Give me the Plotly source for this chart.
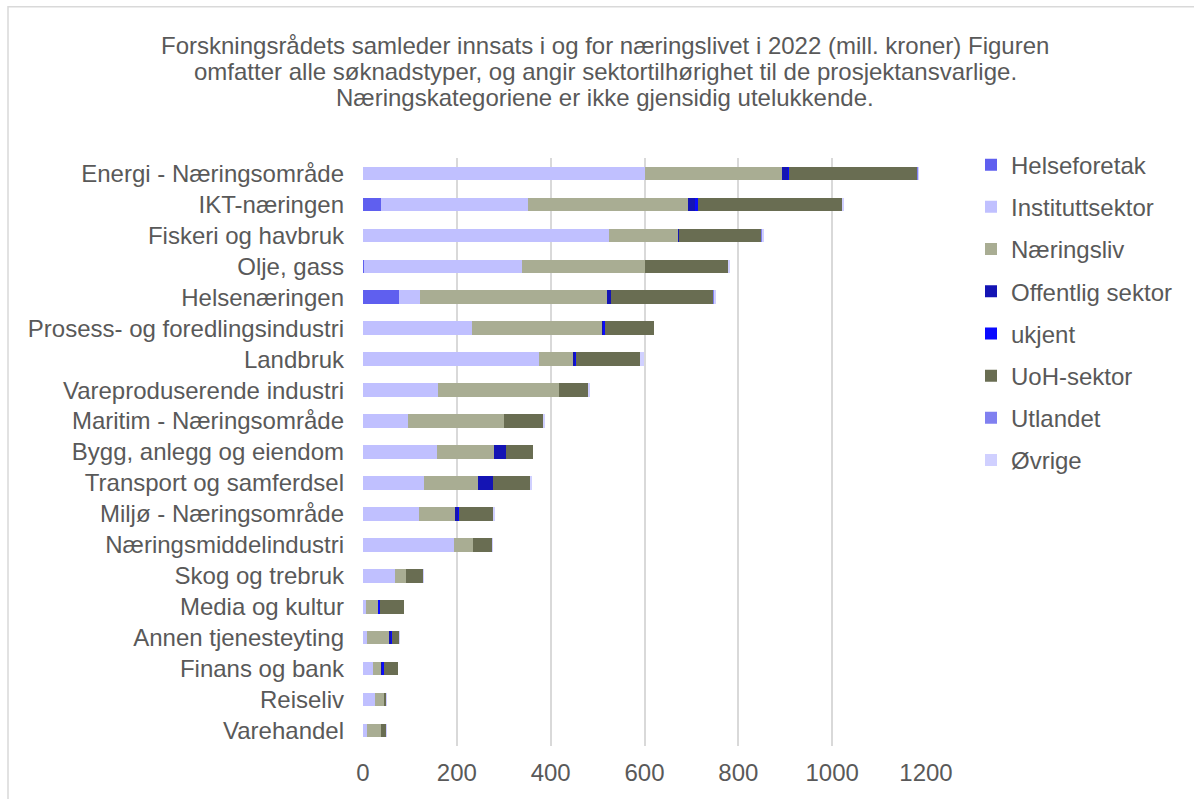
import plotly.graph_objects as go

categories = [
    "Energi - Næringsområde", "IKT-næringen", "Fiskeri og havbruk", "Olje, gass",
    "Helsenæringen", "Prosess- og foredlingsindustri", "Landbruk",
    "Vareproduserende industri", "Maritim - Næringsområde", "Bygg, anlegg og eiendom",
    "Transport og samferdsel", "Miljø - Næringsområde", "Næringsmiddelindustri",
    "Skog og trebruk", "Media og kultur", "Annen tjenesteyting", "Finans og bank",
    "Reiseliv", "Varehandel",
]

helseforetak =     [0, 38, 0, 2, 77, 0, 0, 0, 0, 0, 0, 0, 0, 0, 0, 0, 0, 0, 0]
instituttsektor =  [601, 313, 525, 336, 45, 232, 375, 160, 95, 157, 131, 120, 193, 69, 7, 9, 21, 25, 9]
naeringsliv =      [292, 341, 147, 262, 397, 279, 74, 258, 205, 122, 115, 76, 42, 23, 25, 48, 19, 20, 30]
offentlig_sektor = [14, 16, 2, 0, 9, 1, 3, 0, 0, 25, 32, 8, 0, 0, 1, 3, 2, 0, 0]
ukjent =           [2, 7, 0, 0, 0, 3, 2, 0, 0, 0, 0, 1, 0, 0, 3, 1, 3, 0, 0]
uoh_sektor =       [273, 306, 176, 179, 220, 105, 136, 62, 84, 58, 80, 74, 40, 37, 52, 16, 30, 5, 11]
utlandet =         [1, 1, 1, 0, 1, 0, 0, 1, 1, 0, 0, 0, 0, 0, 0, 0, 0, 0, 0]
ovrige =           [1, 2, 2, 2, 2, 0, 8, 1, 2, 0, 3, 1, 1, 1, 0, 1, 0, 1, 1]

series = [
    ("Helseforetak", helseforetak, "#5F5FEF"),
    ("Instituttsektor", instituttsektor, "#C0C0FF"),
    ("Næringsliv", naeringsliv, "#A9AD93"),
    ("Offentlig sektor", offentlig_sektor, "#1414B4"),
    ("ukjent", ukjent, "#0A0AFF"),
    ("UoH-sektor", uoh_sektor, "#696D52"),
    ("Utlandet", utlandet, "#8080F0"),
    ("Øvrige", ovrige, "#D0D0FF"),
]

x_ticks = [0, 200, 400, 600, 800, 1000, 1200]

TEXT = "#595959"
FONT = "Liberation Sans, Arial, sans-serif"
FS = 24

fig = go.Figure()
for name, vals, color in series:
    fig.add_trace(go.Bar(
        y=categories, x=vals, name=name, orientation="h",
        marker=dict(color=color, line=dict(width=0)),
        legendgroup=name,
    ))

W, H = 1194, 799
L, R, T, B = 363, 268, 157.5, 52.5
pw = W - L - R
ph = H - T - B

def px_x(p):
    return (p - L) / pw

def px_y(p):
    return (H - B - p) / ph

fig.update_layout(
    width=W, height=H,
    barmode="stack", bargap=0.56,
    plot_bgcolor="white", paper_bgcolor="white",
    margin=dict(l=L, r=R, t=T, b=B),
    font=dict(family=FONT, size=FS, color=TEXT),
    showlegend=True,
    legend=dict(
        x=px_x(971), y=px_y(142), xanchor="left", yanchor="top",
        font=dict(size=FS, color=TEXT), tracegroupgap=8,
        itemwidth=30, bgcolor="rgba(0,0,0,0)",
    ),
    xaxis=dict(
        range=[0, 1200], tickvals=x_ticks, showgrid=True, gridcolor="#D9D9D9",
        gridwidth=1.5, zeroline=False, showline=False, ticks="",
        tickfont=dict(size=FS, color=TEXT), ticklabelstandoff=10,
    ),
    yaxis=dict(
        categoryorder="array", categoryarray=categories, autorange="reversed",
        showgrid=False, showline=False, ticks="", ticklabelstandoff=18,
        tickfont=dict(size=FS, color=TEXT),
    ),
)

title_lines = [
    "Forskningsrådets samleder innsats i og for næringslivet i 2022 (mill. kroner) Figuren",
    "omfatter alle søknadstyper, og angir sektortilhørighet til de prosjektansvarlige.",
    "Næringskategoriene er ikke gjensidig utelukkende.",
]
for i, line in enumerate(title_lines):
    fig.add_annotation(
        text=line, xref="paper", yref="paper",
        x=px_x(605), y=px_y(45 + i * 26),
        xanchor="center", yanchor="middle", showarrow=False,
        font=dict(size=FS, color=TEXT, family=FONT),
    )

# chart-area border
fig.add_shape(
    type="rect", xref="paper", yref="paper",
    x0=px_x(8), x1=px_x(W + 5),
    y0=px_y(H + 5), y1=px_y(6),
    line=dict(color="#D9D9D9", width=1.5), fillcolor="rgba(0,0,0,0)", layer="below",
)

fig.write_html(
    "out.html",
    config={"displayModeBar": False},
    post_script="document.body.style.margin='0';",
)
